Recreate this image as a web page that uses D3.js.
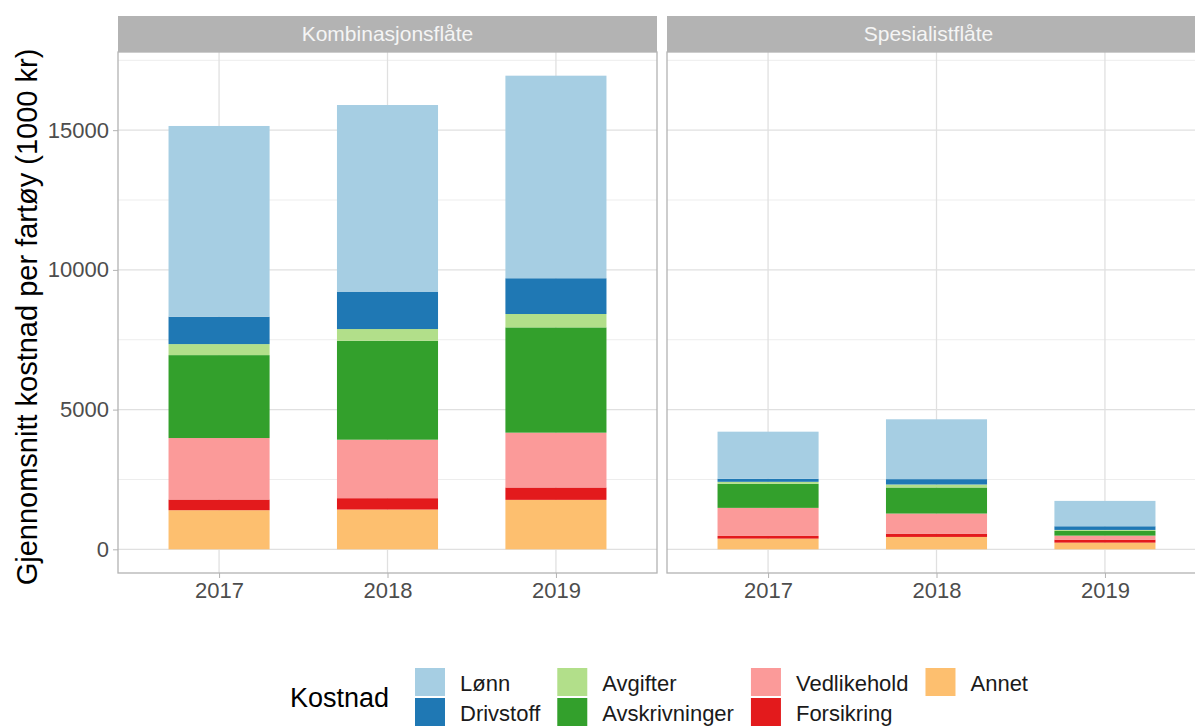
<!DOCTYPE html>
<html>
<head>
<meta charset="utf-8">
<script src="https://cdn.jsdelivr.net/npm/d3@7"></script>
<style>
  body { margin: 0; background: #fff; }
  text { font-family: "Liberation Sans", Arial, sans-serif; }
</style>
</head>
<body>
<div id="chart"></div>
<script>
const years = ["2017", "2018", "2019"];
const panels = ["Kombinasjonsflåte", "Spesialistflåte"];
// stack order, bottom to top
const costs = ["Annet", "Forsikring", "Vedlikehold", "Avskrivninger", "Avgifter", "Drivstoff", "Lønn"];
const legendOrder = ["Lønn", "Drivstoff", "Avgifter", "Avskrivninger", "Vedlikehold", "Forsikring", "Annet"];
const costColors = ["#FDBF6F", "#E31A1C", "#FB9A99", "#33A02C", "#B2DF8A", "#1F78B4", "#A6CEE3"];

// values per year, in the order of `costs`
const kombinasjon = [
  [1400, 383, 2200, 2967, 395, 980, 6825],
  [1424, 406, 2093, 3541, 419, 1339, 6678],
  [1770, 443, 1962, 3767, 479, 1280, 7249]
];
const spesialist = [
  [383, 95, 1005, 861, 72, 108, 1686],
  [443, 119, 718, 933, 107, 192, 2141],
  [239, 108, 143, 168, 36, 131, 908]
];
const yTicks = [0, 5000, 10000, 15000];
const yMinor = [2500, 7500, 12500, 17500];

const W = 1195, H = 727;
const panelW = 539, panelTop = 52, panelBottom = 573;
const panelX = [118, 667];
const stripH = 36;
const tickFont = "22px";

const svg = d3.select("#chart").append("svg")
  .attr("width", W).attr("height", H);

const color = d3.scaleOrdinal().domain(costs).range(costColors);

const allData = [kombinasjon, spesialist];
const maxTotal = d3.max(allData, p => d3.max(p, r => d3.sum(r)));
const pad = maxTotal * 0.05;
const y = d3.scaleLinear()
  .domain([-pad, maxTotal + pad])
  .range([panelBottom, panelTop]);

const stack = d3.stack().keys(costs);

panels.forEach((name, pi) => {
  const x0 = panelX[pi];
  const x = d3.scalePoint().domain(years).range([x0, x0 + panelW]).padding(0.6);
  const barW = x.step() * 0.6;
  const g = svg.append("g");

  // strip
  g.append("rect")
    .attr("x", x0).attr("y", panelTop - stripH)
    .attr("width", panelW).attr("height", stripH)
    .attr("fill", "#B3B3B3");
  g.append("text")
    .attr("x", x0 + panelW / 2 - (pi === 1 ? 8 : 0)).attr("y", panelTop - stripH / 2)
    .attr("dy", "0.35em")
    .attr("text-anchor", "middle")
    .attr("fill", "#F5F5F5")
    .style("font-size", "21px")
    .text(name);

  // grid
  g.selectAll(".minor").data(yMinor).join("line")
    .attr("x1", x0).attr("x2", x0 + panelW)
    .attr("y1", d => y(d)).attr("y2", d => y(d))
    .attr("stroke", "#EDEDED").attr("stroke-width", 1);
  g.selectAll(".major").data(yTicks).join("line")
    .attr("x1", x0).attr("x2", x0 + panelW)
    .attr("y1", d => y(d)).attr("y2", d => y(d))
    .attr("stroke", "#E0E0E0").attr("stroke-width", 1.3);
  g.selectAll(".vgrid").data(years).join("line")
    .attr("x1", d => x(d)).attr("x2", d => x(d))
    .attr("y1", panelTop).attr("y2", panelBottom)
    .attr("stroke", "#E0E0E0").attr("stroke-width", 1.3);

  // bars
  const rows = allData[pi].map((r, i) => {
    const o = { year: years[i] };
    costs.forEach((c, j) => o[c] = r[j]);
    return o;
  });
  const series = stack(rows);
  g.selectAll(".layer").data(series).join("g")
    .attr("fill", d => color(d.key))
    .selectAll("rect").data(d => d).join("rect")
    .attr("x", d => x(d.data.year) - barW / 2)
    .attr("width", barW)
    .attr("y", d => y(d[1]))
    .attr("height", d => y(d[0]) - y(d[1]));

  // border
  g.append("rect")
    .attr("x", x0).attr("y", panelTop)
    .attr("width", panelW).attr("height", panelBottom - panelTop)
    .attr("fill", "none").attr("stroke", "#B3B3B3").attr("stroke-width", 1.3);

  // x axis
  const xa = g.append("g")
    .attr("transform", `translate(0,${panelBottom})`)
    .call(d3.axisBottom(x).tickSize(5).tickSizeOuter(0).tickPadding(4));
  xa.select(".domain").remove();
  xa.selectAll(".tick line").attr("stroke", "#B3B3B3");
  xa.selectAll(".tick text")
    .attr("fill", "#4D4D4D")
    .style("font-size", tickFont)
    .style("font-family", "'Liberation Sans', Arial, sans-serif");

  if (pi === 0) {
    const ya = g.append("g")
      .attr("transform", `translate(${x0},0)`)
      .call(d3.axisLeft(y).tickValues(yTicks).tickFormat(d3.format("d"))
        .tickSize(5).tickPadding(4));
    ya.select(".domain").remove();
    ya.selectAll(".tick line").attr("stroke", "#B3B3B3");
    ya.selectAll(".tick text")
      .attr("fill", "#4D4D4D")
      .style("font-size", tickFont)
      .style("font-family", "'Liberation Sans', Arial, sans-serif");
  }
});

// y axis title
svg.append("text")
  .attr("transform", `translate(27,317) rotate(-90)`)
  .attr("text-anchor", "middle")
  .attr("dy", "0.35em")
  .attr("fill", "#000")
  .style("font-size", "29px")
  .text("Gjennomsnitt kostnad per fartøy (1000 kr)");

// legend
const legend = svg.append("g");
legend.append("text")
  .attr("x", 290).attr("y", 698)
  .attr("dy", "0.35em")
  .style("font-size", "27px")
  .attr("fill", "#000")
  .text("Kostnad");

const keyW = 30, keyH = 28, rowGap = 2;
let colX = 415;
for (let c = 0; c < Math.ceil(legendOrder.length / 2); c++) {
  const items = legendOrder.slice(c * 2, c * 2 + 2);
  let maxW = 0;
  items.forEach((name, r) => {
    const ky = 668 + r * (keyH + rowGap);
    legend.append("rect")
      .attr("x", colX).attr("y", ky)
      .attr("width", keyW).attr("height", keyH)
      .attr("fill", color(name));
    const t = legend.append("text")
      .attr("x", colX + keyW + 15).attr("y", ky + keyH / 2 + 1)
      .attr("dy", "0.35em")
      .style("font-size", "22px")
      .attr("fill", "#1A1A1A")
      .text(name);
    maxW = Math.max(maxW, t.node().getComputedTextLength());
  });
  colX += keyW + 15 + maxW + 17;
}
</script>
</body>
</html>
